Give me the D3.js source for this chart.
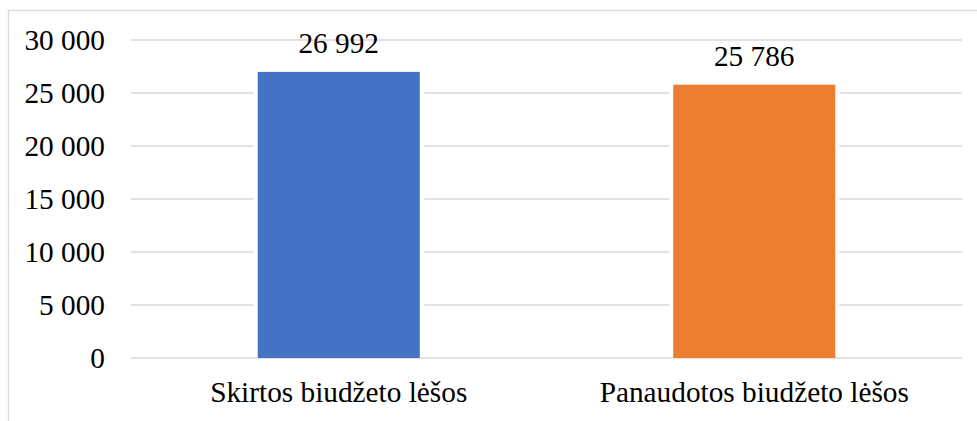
<!DOCTYPE html>
<html>
<head>
<meta charset="utf-8">
<script src="https://cdn.jsdelivr.net/npm/d3@7"></script>
<style>
  html, body { margin: 0; padding: 0; background: #fff; }
  svg { display: block; }
  svg text { font-family: "Liberation Serif", "Times New Roman", serif !important; fill: #000; }
</style>
</head>
<body>
<svg id="chart" width="977" height="421"></svg>
<script>
const categories = ["Skirtos biudžeto lėšos", "Panaudotos biudžeto lėšos"];
const values = [26992, 25786];
const colors = ["#4472C4", "#ED7D31"];
const yTicks = [0, 5000, 10000, 15000, 20000, 25000, 30000];

const svg = d3.select("#chart");
const plot = { left: 131, right: 962, top: 40, bottom: 358 };
const fontSize = 29.3;
const serif = '"Liberation Serif", "Times New Roman", serif';

const fmt = v => d3.format(",")(v).replace(/,/g, " ");

// outer chart border (right and bottom edges fall outside the picture)
svg.append("rect")
  .attr("x", 8.5).attr("y", 10.5)
  .attr("width", 1200).attr("height", 1200)
  .attr("fill", "none").attr("stroke", "#d9d9d9").attr("stroke-width", 1.3);

const x = d3.scaleBand().domain(categories).range([plot.left, plot.right]).padding(0);
const y = d3.scaleLinear().domain([0, 30000]).range([plot.bottom, plot.top]);

// gridlines
svg.append("g").selectAll("line").data(yTicks).join("line")
  .attr("x1", plot.left).attr("x2", plot.right)
  .attr("y1", d => y(d)).attr("y2", d => y(d))
  .attr("stroke", "#d9d9d9").attr("stroke-width", 1.3);

// y axis labels
const yAxis = d3.axisLeft(y).tickValues(yTicks).tickFormat(fmt).tickSize(0).tickPadding(26);
const gy = svg.append("g").attr("transform", `translate(${plot.left},0)`).call(yAxis);
gy.attr("font-family", null).attr("font-size", null);
gy.select(".domain").remove();
gy.selectAll("text")
  .style("font-family", serif)
  .style("font-size", fontSize + "px")
  .attr("fill", "#000");

const barW = x.bandwidth() * 0.39;
const bx = d => x(d) + x.bandwidth() / 2 - barW / 2;

// white halo behind bars (gridline gaps)
svg.append("g").selectAll("rect").data(categories).join("rect")
  .attr("x", d => bx(d) - 4)
  .attr("width", barW + 8)
  .attr("y", (d, i) => y(values[i]))
  .attr("height", (d, i) => y(0) - y(values[i]) - 1)
  .attr("fill", "#fff");

// bars
svg.append("g").selectAll("rect").data(categories).join("rect")
  .attr("x", d => bx(d))
  .attr("width", barW)
  .attr("y", (d, i) => y(values[i]))
  .attr("height", (d, i) => y(0) - y(values[i]))
  .attr("fill", (d, i) => colors[i]);

// value labels
svg.append("g").selectAll("text").data(categories).join("text")
  .attr("x", d => x(d) + x.bandwidth() / 2)
  .attr("y", (d, i) => y(values[i]) - 19)
  .attr("text-anchor", "middle")
  .style("font-family", serif)
  .style("font-size", fontSize + "px")
  .text((d, i) => fmt(values[i]));

// x axis labels
const xAxis = d3.axisBottom(x).tickSize(0).tickPadding(0);
const gx = svg.append("g").attr("transform", `translate(0,${plot.bottom})`).call(xAxis);
gx.attr("font-family", null).attr("font-size", null);
gx.select(".domain").remove();
gx.selectAll("text")
  .style("font-family", serif)
  .style("font-size", fontSize + "px")
  .attr("fill", "#000")
  .attr("dy", null)
  .attr("y", 44);
</script>
</body>
</html>
